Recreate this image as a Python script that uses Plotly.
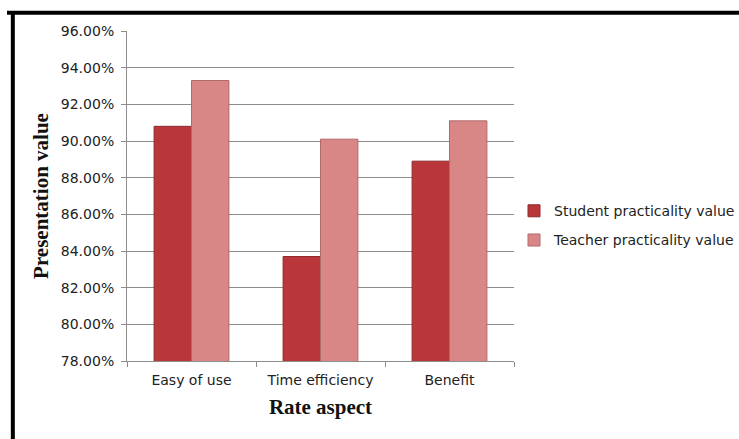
import plotly.graph_objects as go

categories = ["Easy of use", "Time efficiency", "Benefit"]
student_values = [0.908, 0.837, 0.889]
teacher_values = [0.933, 0.901, 0.911]
y_ticks = [0.78, 0.80, 0.82, 0.84, 0.86, 0.88, 0.90, 0.92, 0.94, 0.96]
y_tick_labels = ["78.00%", "80.00%", "82.00%", "84.00%", "86.00%", "88.00%",
                 "90.00%", "92.00%", "94.00%", "96.00%"]

fig = go.Figure()
fig.add_trace(go.Bar(
    x=categories, y=student_values, name="Student practicality value",
    marker=dict(color="#B9363A", line=dict(color="#8E2A2C", width=1)),
    legendgroup="a",
))
fig.add_trace(go.Bar(
    x=categories, y=teacher_values, name="Teacher practicality value",
    marker=dict(color="#D88686", line=dict(color="#B06A6A", width=1)),
    legendgroup="b",
))

tick_font = dict(family="DejaVu Sans", size=14, color="#222222")
fig.update_layout(
    width=739, height=439,
    margin=dict(l=127, r=225, t=31, b=78, autoexpand=False),
    paper_bgcolor="white", plot_bgcolor="white",
    barmode="group", bargap=0.42, bargroupgap=0,
    showlegend=True,
    legend=dict(
        x=1.0, y=0.41, xanchor="left", yanchor="middle",
        font=dict(family="DejaVu Sans", size=14, color="#222222"),
        traceorder="grouped", tracegroupgap=8,
        itemwidth=30,
    ),
    xaxis=dict(
        tickfont=tick_font,
        showline=True, linecolor="#8c8c8c", linewidth=1,
        ticks="outside", ticklen=5, tickcolor="#8c8c8c",
        tickson="boundaries", ticklabelstandoff=6,
        title=dict(text="<b>Rate aspect</b>",
                   font=dict(family="Liberation Serif", size=21, color="#111111"),
                   standoff=12),
    ),
    yaxis=dict(
        range=[0.78, 0.96],
        tickvals=y_ticks, ticktext=y_tick_labels,
        tickfont=tick_font,
        showgrid=True, gridcolor="#8c8c8c", gridwidth=1,
        showline=True, linecolor="#8c8c8c", linewidth=1,
        ticks="outside", ticklen=5, tickcolor="#8c8c8c",
        ticklabelstandoff=4,
        zeroline=False,
        title=dict(text="<b>Presentation value</b>",
                   font=dict(family="Liberation Serif", size=21, color="#111111"),
                   standoff=6),
    ),
    shapes=[
        dict(type="line", xref="paper", yref="paper",
             x0=-0.31, x1=1.7, y0=1.055, y1=1.055,
             line=dict(color="black", width=4)),
        dict(type="line", xref="paper", yref="paper",
             x0=-0.295, x1=-0.295, y0=1.06, y1=-0.3,
             line=dict(color="black", width=4)),
    ],
)

fig.write_html("out.html")
